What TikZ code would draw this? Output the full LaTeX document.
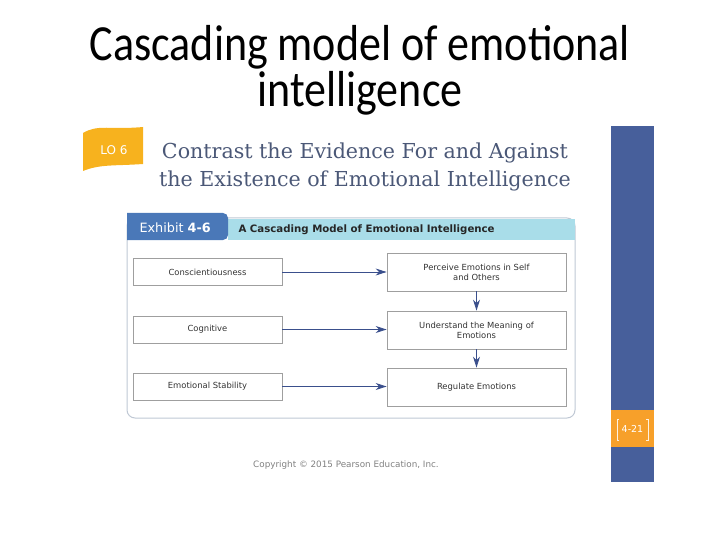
\documentclass[tikz,border=0pt]{standalone}
\usepackage{fontspec}
\setmainfont{DejaVu Sans}
\newfontfamily\titlefont{Carlito}
\newfontfamily\headfont{DejaVu Serif}
\usetikzlibrary{arrows.meta,positioning,calc}
\definecolor{headblue}{HTML}{4B5877}
\definecolor{barblue}{HTML}{475F9B}
\definecolor{tabblue}{HTML}{4A78B8}
\definecolor{bandcyan}{HTML}{A9DDE9}
\definecolor{loorange}{HTML}{F7B21E}
\definecolor{pageorange}{HTML}{F7A02A}
\definecolor{arrowblue}{HTML}{3A4F8C}
\definecolor{framegray}{HTML}{BFC8D4}
\tikzset{
	cause/.style={draw=gray!75, line width=0.8pt, align=center, minimum height=27pt, minimum width=149pt, font=\fontsize{8.4}{10}\selectfont, text=black!80},
	skill/.style={draw=gray!75, line width=0.8pt, align=center, minimum height=38pt, minimum width=179pt, font=\fontsize{8.4}{10}\selectfont, text=black!80},
	flow/.style={-{Stealth[length=11pt, width=7pt]}, arrowblue, line width=0.9pt}
}

\begin{document}
\begin{tikzpicture}[x=1pt, y=-1pt]
	\useasboundingbox (0,0) rectangle (720,540);
	% slide title
	\node[font=\titlefont\fontsize{44}{40}\selectfont, align=center, yscale=1.15, transform shape] (title) at (360,70) {Cascading model of emotional\\intelligence};
	% LO badge and heading
	\fill[loorange] (83,133) .. controls (98,124) and (110,130) .. (143,127) -- (143,164) .. controls (115,166) and (100,164) .. (83,171) -- cycle;
	\node[text=white, font=\fontsize{12}{13}\selectfont] (lo) at (114,150) {LO 6};
	\node[text=headblue, font=\headfont\fontsize{20.6}{28}\selectfont, align=center] (head) at (365,167) {Contrast the Evidence For and Against\\the Existence of Emotional Intelligence};
	% side bar
	\fill[barblue] (611,126) rectangle (654,482);
	\fill[pageorange] (611,410) rectangle (654,447);
	\node[text=white, font=\fontsize{9.5}{11}\selectfont] (page) at (632.5,429) {4-21};
	\draw[white!85!pageorange, line width=0.7pt] (619,419) -- (617,419) -- (617,440) -- (619,440);
	\draw[white!85!pageorange, line width=0.7pt] (646,419) -- (648,419) -- (648,440) -- (646,440);
	% exhibit frame
	\draw[framegray, line width=1pt, rounded corners=8pt] (127,218) rectangle (575,418);
	\fill[bandcyan] (228,219) rectangle (575,240);
	\fill[tabblue, rounded corners=5pt] (127,213) -- (228,213) -- (228,240) [sharp corners] -- (127,240) -- cycle;
	\node[text=white, font=\fontsize{12.8}{14}\selectfont, anchor=west] (exhibit) at (136,227.5) {Exhibit \textbf{4-6}};
	\node[text=black!85, font=\bfseries\fontsize{10.2}{12}\selectfont, anchor=west] (band) at (235,229.5) {A Cascading Model of Emotional Intelligence};
	% model boxes
	\node[cause] (cons) at (207.5,272) {Conscientiousness};
	\node[cause] (cogn) at (207.5,329.5) {Cognitive};
	\node[cause] (stab) at (207.5,386.5) {Emotional Stability};
	\node[skill] (perc) at (476.5,272) {Perceive Emotions in Self\\and Others};
	\node[skill] (under) at (476.5,330) {Understand the Meaning of\\Emotions};
	\node[skill] (reg) at (476.5,387) {Regulate Emotions};
	\draw[flow] (cons.east) -- (cons.east -| perc.west);
	\draw[flow] (cogn.east) -- (cogn.east -| under.west);
	\draw[flow] (stab.east) -- (stab.east -| reg.west);
	\draw[flow] (perc.south) -- (under.north);
	\draw[flow] (under.south) -- (reg.north);
	% footer
	\node[text=gray, font=\fontsize{8.8}{10}\selectfont] (copy) at (346,465) {Copyright \textcopyright{} 2015 Pearson Education, Inc.};
\end{tikzpicture}
\end{document}
